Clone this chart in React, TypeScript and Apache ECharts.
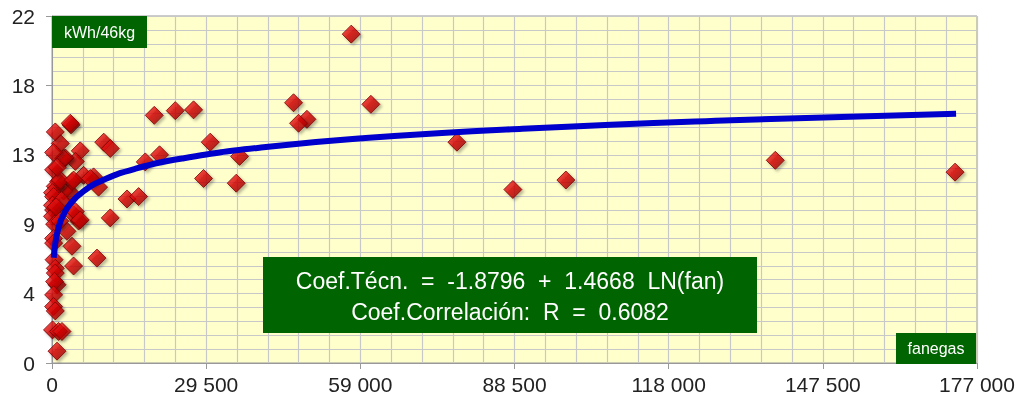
import React, { useEffect, useRef } from "react";
import * as echarts from "echarts";

// Scatter points: [fanegas, kWh/46kg]
const observations: [number, number][] = [
  [57260, 20.85], [46220, 16.5], [61020, 16.4], [48780, 15.45], [47180, 15.2],
  [27090, 16.05], [23590, 16.0], [19570, 15.7], [30280, 14.0], [35890, 13.1],
  [29000, 11.7], [35260, 11.4], [77480, 14.0], [88190, 11.0], [98330, 11.6],
  [138400, 12.85], [172800, 12.1], [9900, 14.0], [11150, 13.6], [17850, 12.75],
  [20580, 13.2], [14350, 10.4], [16570, 10.55], [11150, 9.2], [8610, 6.65],
  [8910, 11.15], [7960, 11.8], [6050, 11.9], [5410, 13.45], [5090, 9.0],
  [4130, 9.4], [4460, 12.78], [3630, 15.1], [3500, 15.2], [4130, 6.15],
  [3830, 7.4], [3500, 10.8], [2870, 8.35], [3830, 11.5], [2540, 13.0],
  [2220, 10.9], [2220, 12.97], [1590, 13.92], [1260, 11.5], [630, 14.65],
  [310, 13.35], [310, 12.25], [630, 11.2], [100, 10.8], [310, 10.55],
  [310, 9.7], [100, 10.0], [100, 9.3], [500, 8.8], [310, 7.9],
  [310, 7.6], [400, 6.55], [630, 6.0], [630, 5.7], [960, 4.96],
  [500, 5.16], [310, 4.32], [310, 3.58], [630, 3.3], [100, 2.1],
  [1260, 2.0], [1910, 2.0], [960, 0.75], [4460, 9.6], [5410, 9.07],
  [1590, 11.6], [4130, 11.6], [7330, 11.7], [1000, 12.4], [1800, 10.3],
  [800, 9.9], [1500, 9.0]
];

// Fitted logarithmic trend
const trendX = [340, 400, 600, 800, 1000, 1400, 2000, 3500, 6000, 10000, 16000, 25000, 40000, 60000, 90000, 130000, 173000];
const trendY = [6.67, 6.91, 7.50, 7.93, 8.25, 8.75, 9.27, 10.09, 10.88, 11.63, 12.32, 12.97, 13.66, 14.26, 14.85, 15.39, 15.81];

const xTickStep = 29500;
const yTickStep = 4.4;
const xMax = 177000;
const yMax = 22;

const equationLine1 = "Coef.Técn.  =  -1.8796  +  1.4668  LN(fan)";
const equationLine2 = "Coef.Correlación:  R  =  0.6082";
const yUnitLabel = "kWh/46kg";
const xUnitLabel = "fanegas";

const FONT = "'Liberation Sans', Arial, sans-serif";
const GREEN = "#006400";
const GRID_COLOR = "#C8C8C8";

function fmtThousands(v: number): string {
  const s = Math.round(v).toString();
  return s.replace(/\B(?=(\d{3})+(?!\d))/g, " ");
}

export default function App() {
  const ref = useRef<HTMLDivElement>(null);
  useEffect(() => {
    if (!ref.current) return;
    const chart = echarts.init(ref.current, null, { renderer: "svg" });
    const trend = trendX.map((x, i) => [x, trendY[i]]);
    const box = (x: number, y: number, w: number, h: number) => ({
      type: "rect",
      z: 100,
      zlevel: 0,
      shape: { x, y, width: w, height: h },
      style: { fill: GREEN },
    });
    const label = (text: string, x: number, y: number, size: number) => ({
      type: "text",
      z: 101,
      x,
      y,
      style: {
        text,
        fill: "#FFFFFF",
        font: `${size}px ${FONT}`,
        textAlign: "center",
        textVerticalAlign: "middle",
      },
    });
    chart.setOption({
      animation: false,
      grid: {
        left: 52,
        right: 42,
        top: 16,
        bottom: 39,
        show: true,
        backgroundColor: "#FFFFCC",
        borderColor: "#999999",
        borderWidth: 1,
      },
      xAxis: {
        type: "value",
        min: 0,
        max: xMax,
        interval: xTickStep,
        axisLine: { show: true, lineStyle: { color: "#999999", width: 1 } },
        axisTick: { show: true, length: 6, lineStyle: { color: "#999999" } },
        axisLabel: {
          margin: 11,
          fontSize: 21,
          fontFamily: FONT,
          color: "#222222",
          formatter: (v: number) => fmtThousands(v),
        },
        splitLine: { show: true, lineStyle: { color: GRID_COLOR, width: 1.2 } },
        minorTick: { show: false, splitNumber: 5 },
        minorSplitLine: { show: true, lineStyle: { color: GRID_COLOR, width: 1.2 } },
      },
      yAxis: {
        type: "value",
        min: 0,
        max: yMax,
        interval: yTickStep,
        axisLine: { show: true, lineStyle: { color: "#999999", width: 1 } },
        axisTick: { show: true, length: 6, lineStyle: { color: "#999999" } },
        axisLabel: {
          margin: 17,
          fontSize: 21,
          fontFamily: FONT,
          color: "#222222",
          formatter: (v: number) => String(Math.round(v)),
        },
        splitLine: { show: true, lineStyle: { color: GRID_COLOR, width: 1.2 } },
        minorTick: { show: false, splitNumber: 5 },
        minorSplitLine: { show: true, lineStyle: { color: GRID_COLOR, width: 1.2 } },
      },
      series: [
        {
          type: "scatter",
          data: observations,
          symbol: "diamond",
          symbolSize: 18,
          z: 2,
          itemStyle: {
            color: new echarts.graphic.LinearGradient(0, 0, 1, 1, [
              { offset: 0, color: "#FF3030" },
              { offset: 0.5, color: "#D00000" },
              { offset: 1, color: "#8A0000" },
            ]),
            borderColor: "#7A0000",
            borderWidth: 1,
            shadowColor: "rgba(0,0,0,0.35)",
            shadowBlur: 3,
            shadowOffsetX: 2,
            shadowOffsetY: 2,
          },
        },
        {
          type: "line",
          data: trend,
          smooth: true,
          showSymbol: false,
          symbol: "none",
          z: 3,
          lineStyle: { color: "#0000CC", width: 6 },
        },
      ],
      graphic: [
        box(52, 16, 95, 32),
        label(yUnitLabel, 99.5, 32, 16),
        box(896, 333, 80, 31),
        label(xUnitLabel, 936, 348.5, 16),
        box(263, 257, 494, 76),
        label(equationLine1, 510, 281, 23),
        label(equationLine2, 510, 312, 23),
      ],
    });
    return () => chart.dispose();
  }, []);
  return (
    <div
      ref={ref}
      style={{ position: "fixed", left: 0, top: 0, width: 1019, height: 402 }}
    />
  );
}
